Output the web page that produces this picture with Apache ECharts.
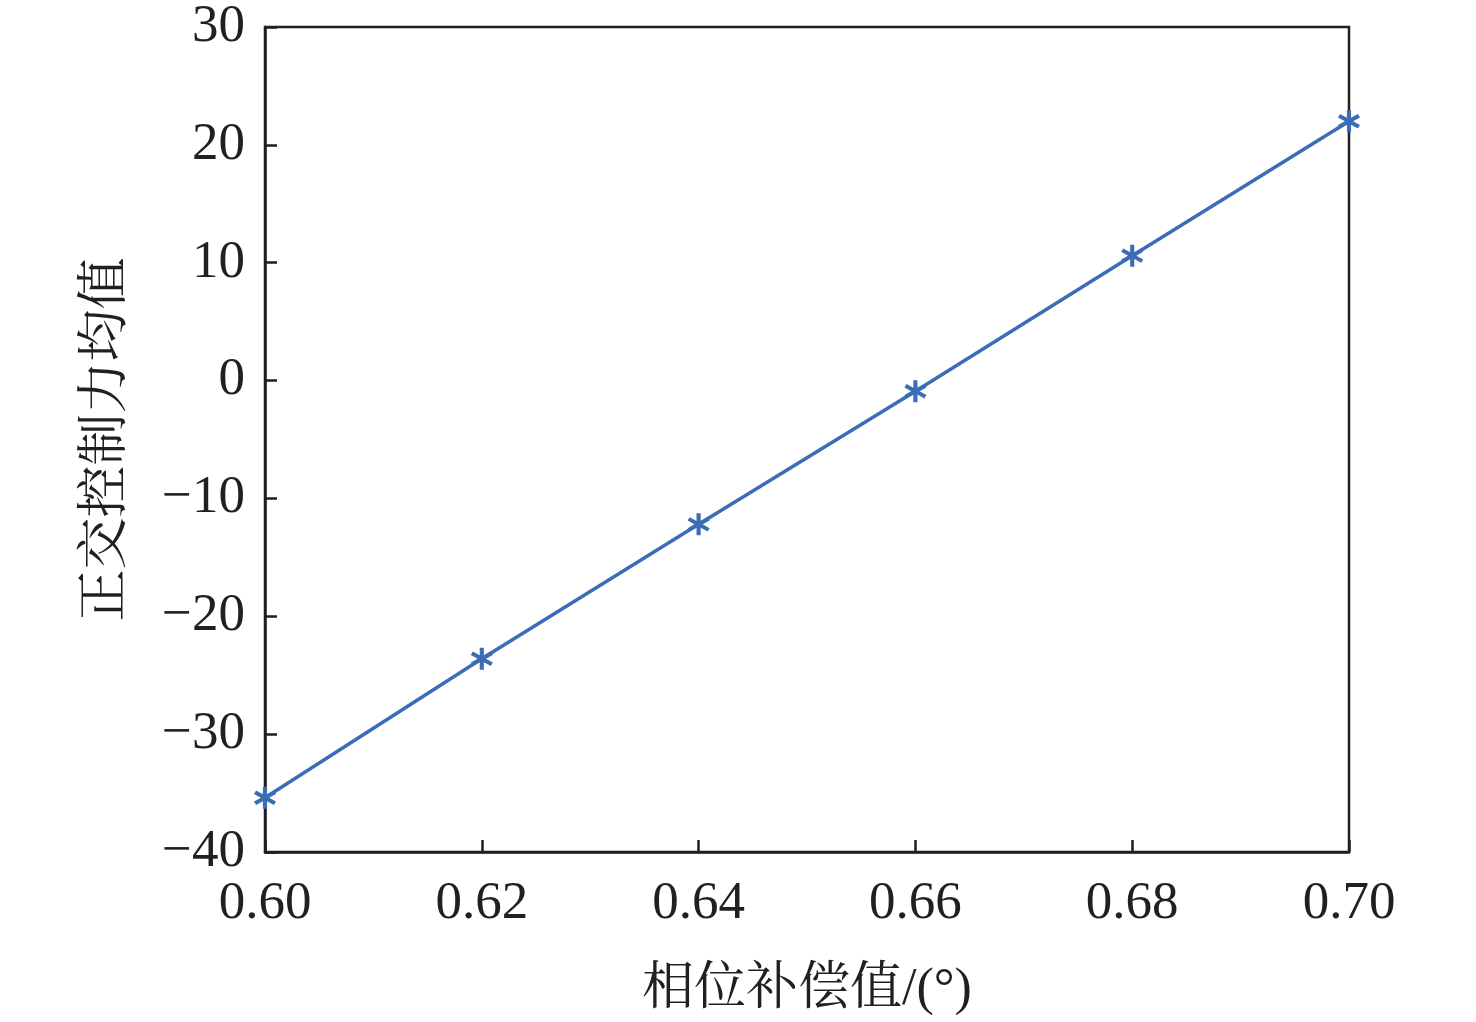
<!DOCTYPE html>
<html lang="zh" style="height: 100%">
<head>
    <meta charset="UTF-8">
    <title>正交控制力均值</title>
    <script src="https://cdn.jsdelivr.net/npm/echarts@6/dist/echarts.min.js"></script>
</head>
<body style="height: 100%; margin: 0; background: #fff">
<div id="main" style="width: 1476px; height: 1022px"></div>
<script>
    // data
    var phase = [0.60, 0.62, 0.64, 0.66, 0.68, 0.70];
    var forceMean = [-35.4, -23.6, -12.2, -0.9, 10.6, 22.0];
    var xName = '相位补偿值/(°)';
    var yName = '正交控制力均值';

    var font = '"Liberation Serif", "Times New Roman", "Noto Serif CJK SC", "Noto Sans CJK SC", serif';
    var lineColor = '#3a6db5';
    var ink = '#231f20';

    // six-armed asterisk outline for the markers
    function asterisk(R, w) {
        var pts = [];
        for (var k = 0; k < 6; k++) {
            var a = (90 + k * 60) * Math.PI / 180;
            var px = -Math.sin(a), py = Math.cos(a);
            var tx = R * Math.cos(a), ty = R * Math.sin(a);
            pts.push([tx - px * w / 2, ty - py * w / 2]);
            pts.push([tx + px * w / 2, ty + py * w / 2]);
            var b = a + 30 * Math.PI / 180;
            pts.push([w * Math.cos(b), w * Math.sin(b)]);
        }
        return 'path://M' + pts.map(function (p) {
            return p[0].toFixed(2) + ' ' + (-p[1]).toFixed(2);
        }).join(' L') + ' Z';
    }

    var points = phase.map(function (x, i) { return [x, forceMean[i]]; });

    var option = {
        backgroundColor: '#fff',
        animation: false,
        grid: {
            left: 265, top: 27, right: 127, bottom: 170,
            show: true, borderColor: ink, borderWidth: 2.5
        },
        xAxis: {
            type: 'value',
            min: 0.60, max: 0.70, interval: 0.02,
            name: xName,
            nameLocation: 'middle',
            nameGap: 112,
            nameTextStyle: { fontFamily: font, fontSize: 52, color: ink },
            axisLine: { onZero: false, lineStyle: { color: ink, width: 2.5 } },
            axisTick: { inside: true, length: 12, lineStyle: { color: ink, width: 2.5 } },
            axisLabel: {
                margin: 26, fontFamily: font, fontSize: 53, color: ink,
                formatter: function (v) { return v.toFixed(2); }
            },
            splitLine: { show: false }
        },
        yAxis: {
            type: 'value',
            min: -40, max: 30, interval: 10,
            name: yName,
            nameLocation: 'middle',
            nameGap: 132,
            nameTextStyle: { fontFamily: font, fontSize: 52, color: ink },
            axisLine: { onZero: false, lineStyle: { color: ink, width: 2.5 } },
            axisTick: { inside: true, length: 12, lineStyle: { color: ink, width: 2.5 } },
            axisLabel: {
                margin: 20, fontFamily: font, fontSize: 53, color: ink,
                formatter: function (v) { return String(v).replace('-', '\u2212'); }
            },
            splitLine: { show: false }
        },
        series: [{
            type: 'line',
            data: points,
            symbol: asterisk(10, 3.6),
            symbolSize: 22,
            showSymbol: true,
            clip: false,
            lineStyle: { color: lineColor, width: 3.5 },
            itemStyle: { color: lineColor }
        }]
    };

    var myChart = echarts.init(document.getElementById('main'));
    myChart.setOption(option);
</script>
</body>
</html>
